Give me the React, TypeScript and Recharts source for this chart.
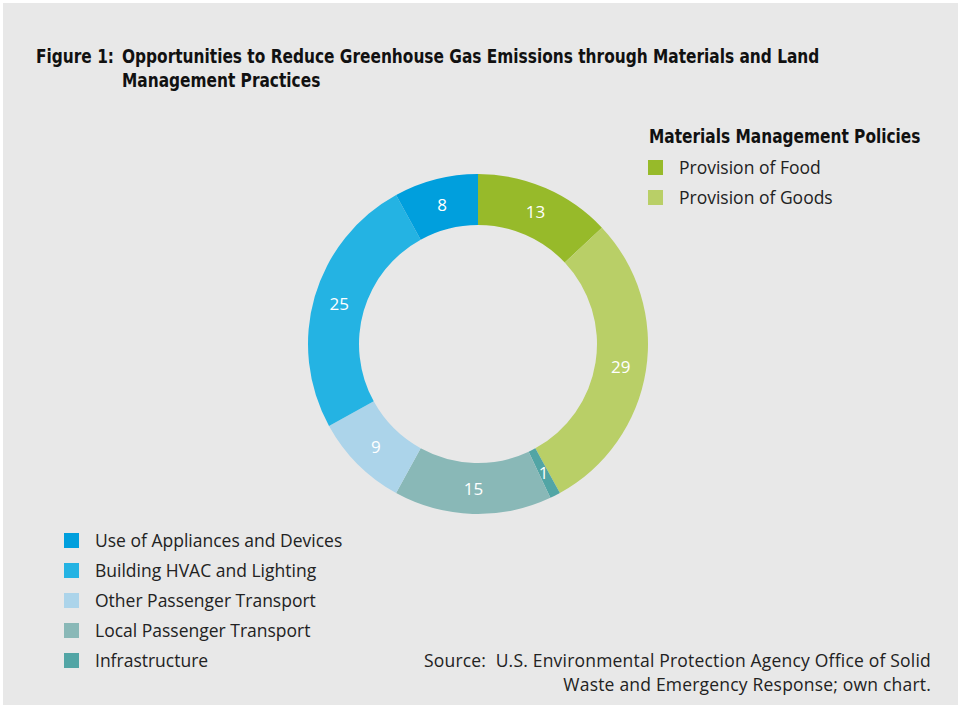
import { Cell, Pie, PieChart } from "recharts";

const categories = [
  "Provision of Food",
  "Provision of Goods",
  "Infrastructure",
  "Local Passenger Transport",
  "Other Passenger Transport",
  "Building HVAC and Lighting",
  "Use of Appliances and Devices",
];
const values = [13, 29, 1, 15, 9, 25, 8];
const colors = ["#97ba2a", "#b9cf67", "#52a5a5", "#89b8b7", "#acd4ea", "#24b3e3", "#009fdd"];

const materialsLegend = ["Provision of Food", "Provision of Goods"];
const landLegend = [
  "Use of Appliances and Devices",
  "Building HVAC and Lighting",
  "Other Passenger Transport",
  "Local Passenger Transport",
  "Infrastructure",
];

const data = categories.map((name, i) => ({ name, value: values[i], color: colors[i] }));
const colorOf = (name: string) => colors[categories.indexOf(name)];

const bodyFont = "'Open Sans', Lato, sans-serif";
const titleFont = "'DejaVu Sans Condensed', 'DejaVu Sans', sans-serif";

const RAD = Math.PI / 180;
const renderLabel = (p: any) => {
  const r = (p.innerRadius + p.outerRadius) / 2;
  const x = p.cx + r * Math.cos(-p.midAngle * RAD);
  const y = p.cy + r * Math.sin(-p.midAngle * RAD);
  return (
    <text x={x} y={y} fill="#ffffff" fontSize={17} textAnchor="middle" dominantBaseline="central"
      fontFamily={bodyFont}>
      {p.value}
    </text>
  );
};

function Swatch({ color, left, top }: { color: string; left: number; top: number }) {
  return <div style={{ position: "absolute", left, top, width: 15, height: 15, background: color }} />;
}

const titleStyle: any = {
  position: "absolute",
  fontFamily: titleFont,
  fontWeight: "bold",
  fontSize: 19,
  color: "#111",
  whiteSpace: "nowrap",
  transform: "scaleX(0.9)",
  transformOrigin: "left top",
};

const textStyle: any = {
  position: "absolute",
  fontFamily: bodyFont,
  fontSize: 17.5,
  color: "#222",
  whiteSpace: "nowrap",
};

export default function App() {
  return (
    <div style={{ position: "fixed", left: 0, top: 0, width: 961, height: 708, background: "#ffffff" }}>
      <div style={{ position: "absolute", left: 3, top: 3, width: 955, height: 702, background: "#e8e8e8" }} />
      <div style={{ position: "absolute", left: 0, top: 0 }}>
        <PieChart width={961} height={708}>
          <Pie
            data={data}
            dataKey="value"
            nameKey="name"
            cx={473}
            cy={339}
            innerRadius={119}
            outerRadius={170}
            startAngle={90}
            endAngle={-270}
            stroke="none"
            label={renderLabel}
            labelLine={false}
            isAnimationActive={false}
          >
            {data.map((d) => (
              <Cell key={d.name} fill={d.color} />
            ))}
          </Pie>
        </PieChart>
      </div>

      <div style={{ ...titleStyle, left: 36, top: 44, lineHeight: "24px" }}>Figure 1:</div>
      <div style={{ ...titleStyle, left: 122, top: 44, lineHeight: "24px" }}>
        <div>Opportunities to Reduce Greenhouse Gas Emissions through Materials and Land</div>
        <div>Management Practices</div>
      </div>

      <div style={{ ...titleStyle, left: 649, top: 125 }}>Materials Management Policies</div>
      {materialsLegend.map((name, i) => (
        <div key={name}>
          <Swatch color={colorOf(name)} left={648} top={160 + i * 30} />
          <div style={{ ...textStyle, left: 679, top: 155 + i * 30 }}>{name}</div>
        </div>
      ))}

      {landLegend.map((name, i) => (
        <div key={name}>
          <Swatch color={colorOf(name)} left={64} top={533 + i * 30} />
          <div style={{ ...textStyle, left: 95, top: 528 + i * 30 }}>{name}</div>
        </div>
      ))}

      <div style={{ ...textStyle, right: 30, top: 648, textAlign: "right", lineHeight: "24px", letterSpacing: 0.2 }}>
        <div>Source:&nbsp; U.S. Environmental Protection Agency Office of Solid</div>
        <div>Waste and Emergency Response; own chart.</div>
      </div>
    </div>
  );
}
